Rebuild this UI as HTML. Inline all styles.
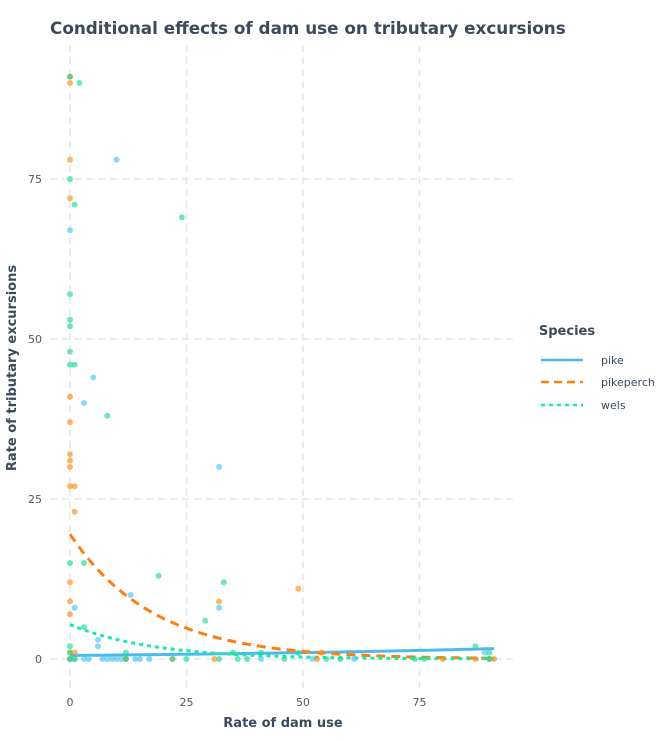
<!DOCTYPE html>
<html><head><meta charset="utf-8"><style>
body{margin:0;background:#fff;font-family:"Liberation Sans","DejaVu Sans",sans-serif}
svg text{font-family:"DejaVu Sans","Liberation Sans",sans-serif}
</style></head><body>
<svg id="chart" width="670" height="736" xmlns="http://www.w3.org/2000/svg">
<text x="50" y="34" font-size="16.8" font-weight="bold" fill="#3b4a5c">Conditional effects of dam use on tributary excursions</text>
<g id="grid"></g><g id="lines"></g><g id="pts"></g><g id="axes"></g>
<text x="283" y="727" font-size="13" font-weight="bold" fill="#3b4a5c" text-anchor="middle">Rate of dam use</text>
<text transform="translate(16,368) rotate(-90)" font-size="13" font-weight="bold" fill="#3b4a5c" text-anchor="middle">Rate of tributary excursions</text>
<g>
<text x="567" y="335" font-size="13" font-weight="bold" fill="#3b4a5c" text-anchor="middle">Species</text>
<g><line x1="541" y1="360" x2="583" y2="360" stroke="#4fb9ef" stroke-width="2.5"/><text x="601" y="364" font-size="11" fill="#3b4a5c">pike</text></g>
<g><line x1="541" y1="382" x2="583" y2="382" stroke="#ff7f0e" stroke-width="2.5" stroke-dasharray="8,5"/><text x="601" y="386" font-size="11" fill="#3b4a5c">pikeperch</text></g>
<g><line x1="541" y1="405" x2="583" y2="405" stroke="#1de9a0" stroke-width="2.5" stroke-dasharray="4,4"/><text x="601" y="409" font-size="11" fill="#3b4a5c">wels</text></g>
</g>
</svg>
<script>
const xTicks=[0,25,50,75];
const yTicks=[0,25,50,75];
const pikeX=[0,10,5,3,32,13,1,32,6,6,0,1,3,4,7,8,9,10,11,12,14,15,17,41,52,61,89,90];
const pikeY=[67,78,44,40,30,10,8,8,3,2,0,0,0,0,0,0,0,0,0,0,0,0,0,0,0,0,1,0];
const perchX=[0,0,0,0,0,0,0,0,0,0,0,0,0,0,0,1,1,1,32,49,12,22,31,53,54,80,87,90,91];
const perchY=[91,90,78,72,41,37,32,31,30,27,12,9,7,1,0,27,23,1,9,11,0,0,0,0,1,0,0,0,0];
const welsX=[2,0,0,1,24,0,0,0,0,0,1,8,0,3,19,33,29,3,0,0,0,1,12,12,22,25,32,35,36,38,41,46,49,55,58,74,76,87,90,90];
const welsY=[90,91,75,71,69,57,53,52,48,46,46,38,15,15,13,12,6,5,2,1,0,0,1,0,0,0,0,1,0,0,1,0,1,0,0,0,0,2,1,0];
const curveA=[0.55,19.5,5.4];
const curveB=[0.0119,-0.056,-0.057];
const X=v=>70+v*4.66, Y=v=>659-v*6.4;
const NS="http://www.w3.org/2000/svg";
function mk(t,p,a){const e=document.createElementNS(NS,t);for(const k in a)e.setAttribute(k,a[k]);p.appendChild(e);return e;}
const g=document.getElementById('grid'),ax=document.getElementById('axes');
xTicks.forEach(t=>{
const l=mk('line',g,{x1:X(t),x2:X(t),y1:45,y2:690,stroke:'#e6e6e6','stroke-width':1.5,'stroke-dasharray':'7,5'});


const tx=mk('text',ax,{x:X(t),y:706,'font-size':11,fill:'#4a5a6a','text-anchor':'middle'});tx.textContent=t;


});
yTicks.forEach(t=>{
const l=mk('line',g,{x1:50,x2:515,y1:Y(t),y2:Y(t),stroke:'#e6e6e6','stroke-width':1.5,'stroke-dasharray':'7,5'});


const tx=mk('text',ax,{x:42,y:Y(t)+4,'font-size':11,fill:'#4a5a6a','text-anchor':'end'});tx.textContent=t;


});
const pg=document.getElementById('pts');
function pts(xs,ys,c,n){xs.forEach((x,i)=>{const e=mk('circle',pg,{cx:X(x),cy:Y(ys[i]),r:3,fill:c,'fill-opacity':0.65});

});}
pts(pikeX,pikeY,'#4fc3f7','pike');pts(perchX,perchY,'#ff8c1a','pikeperch');pts(welsX,welsY,'#1fdc95','wels');
const lg=document.getElementById('lines');
const cols=['#4fb9ef','#ff7f0e','#1de9a0'],dash=['none','9,6','4,4'],names=['pike-trend','pikeperch-trend','wels-trend'];
for(let s=0;s<3;s++){let d='';for(let x=0;x<=91;x+=1){const y=curveA[s]*Math.exp(curveB[s]*x);d+=(x?'L':'M')+X(x).toFixed(1)+','+Y(y).toFixed(1);}
const p=mk('path',lg,{d:d,fill:'none',stroke:cols[s],'stroke-width':3,'stroke-dasharray':dash[s]});

}
</script>
</body></html>
